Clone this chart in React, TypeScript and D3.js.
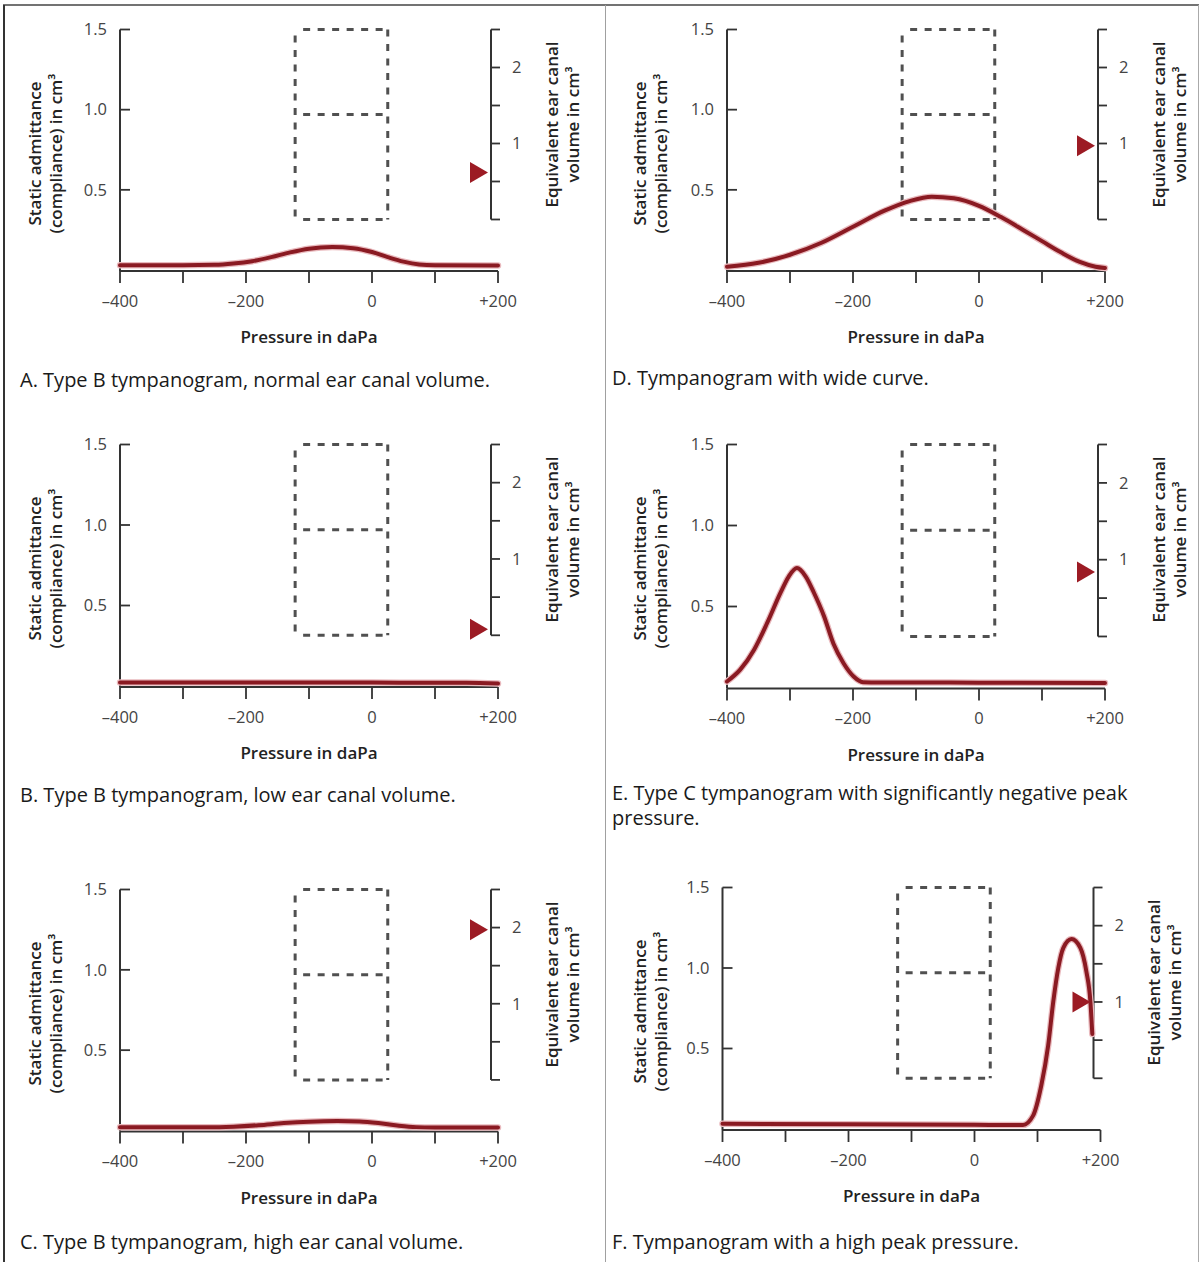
import React from 'react';
import * as d3 from 'd3';

// ---------- data ----------
const pressureTicks = [-400, -300, -200, -100, 0, 100, 200];
const pressureLabelValues = [-400, -200, 0, 200];
const pressureLabelText = ['\u2013400', '\u2013200', '0', '+200'];
const complianceTicks = [0.5, 1.0, 1.5];
const complianceLabels = ['0.5', '1.0', '1.5'];
const volumeTicks = [0, 0.5, 1, 1.5, 2, 2.5];
const volumeLabelValues = [1, 2];

const normalBoxPressure = [-122, 25];
const normalBoxCompliance = [0.315, 0.97, 1.5];

const curveA: [number, number][] = [
  [-400, 0.03], [-300, 0.03], [-250, 0.032], [-220, 0.04], [-190, 0.055], [-160, 0.08],
  [-130, 0.11], [-100, 0.133], [-63, 0.143], [-30, 0.136], [0, 0.112], [25, 0.08],
  [50, 0.052], [75, 0.035], [100, 0.03], [200, 0.028],
];
const curveB: [number, number][] = [
  [-400, 0.022], [-200, 0.022], [0, 0.021], [150, 0.02], [200, 0.015],
];
const curveC: [number, number][] = [
  [-400, 0.02], [-260, 0.02], [-220, 0.024], [-180, 0.033], [-140, 0.046], [-100, 0.055],
  [-55, 0.059], [-20, 0.056], [10, 0.046], [40, 0.031], [70, 0.021], [100, 0.019], [200, 0.018],
];
const curveD: [number, number][] = [
  [-400, 0.02], [-350, 0.045], [-300, 0.095], [-250, 0.17], [-200, 0.27], [-150, 0.37],
  [-110, 0.43], [-75, 0.457], [-40, 0.447], [0, 0.40], [35, 0.33], [70, 0.25], [100, 0.18],
  [130, 0.11], [160, 0.05], [185, 0.02], [200, 0.012],
];
const curveE: [number, number][] = [
  [-400, 0.037], [-379, 0.11], [-357, 0.233], [-336, 0.40], [-315, 0.585], [-302, 0.685],
  [-289, 0.737], [-275, 0.685], [-262, 0.585], [-246, 0.44], [-231, 0.27], [-215, 0.15],
  [-199, 0.068], [-184, 0.033], [-157, 0.031], [0, 0.03], [200, 0.028],
];
const curveF: [number, number][] = [
  [-400, 0.032], [-200, 0.03], [0, 0.026], [77, 0.025], [93, 0.083], [106, 0.27], [117, 0.52],
  [125, 0.79], [133, 1.0], [141, 1.125], [154, 1.18], [168, 1.125], [177.5, 0.98],
  [184, 0.79], [187, 0.59],
];

const markerVolumes = [0.62, 0.08, 1.97, 0.97, 0.84, 1.0];

const captionA = ['A. Type B tympanogram, normal ear canal volume.'];
const captionB = ['B. Type B tympanogram, low ear canal volume.'];
const captionC = ['C. Type B tympanogram, high ear canal volume.'];
const captionD = ['D. Tympanogram with wide curve.'];
const captionE = ['E. Type C tympanogram with significantly negative peak', 'pressure.'];
const captionF = ['F. Tympanogram with a high peak pressure.'];

const yTitle = ['Static admittance', '(compliance) in cm\u00B3'];
const vTitle = ['Equivalent ear canal', 'volume in cm\u00B3'];
const xTitle = 'Pressure in daPa';

// ---------- layout ----------
const panels = [
  { x0: 120, top: 29.5, zero: 270, curve: curveA, marker: markerVolumes[0], caption: captionA, capX: 20, capY: 387, titleX: 35 },
  { x0: 120, top: 444.5, zero: 686, curve: curveB, marker: markerVolumes[1], caption: captionB, capX: 20, capY: 802, titleX: 35 },
  { x0: 120, top: 889.5, zero: 1130.5, curve: curveC, marker: markerVolumes[2], caption: captionC, capX: 20, capY: 1249, titleX: 35 },
  { x0: 727, top: 29.5, zero: 270, curve: curveD, marker: markerVolumes[3], caption: captionD, capX: 612, capY: 385, titleX: 640 },
  { x0: 727, top: 444.5, zero: 687.5, curve: curveE, marker: markerVolumes[4], caption: captionE, capX: 612, capY: 800, titleX: 640 },
  { x0: 722.5, top: 887.5, zero: 1129, curve: curveF, marker: markerVolumes[5], caption: captionF, capX: 612, capY: 1249, titleX: 640 },
];

const FONT = "'Open Sans', 'Noto Sans', sans-serif";
const AXIS = '#333';
const LABEL = '#444';
const RED = '#8a1a22';

function Panel(p: any) {
  const W = 378;
  const x = d3.scaleLinear().domain([-400, 200]).range([p.x0, p.x0 + W]);
  const y = d3.scaleLinear().domain([0, 1.5]).range([p.zero, p.top]);
  const ax = p.x0 + 371;
  const v = d3.scaleLinear().domain([0, 2.5]).range([y(normalBoxCompliance[0]), y(1.5)]);
  const line = d3.line<[number, number]>().x(d => x(d[0])).y(d => y(d[1])).curve(d3.curveMonotoneX);
  const path = line(p.curve) || '';
  const bx0 = x(normalBoxPressure[0]);
  const bx1 = x(normalBoxPressure[1]);
  const by0 = y(normalBoxCompliance[0]);
  const byM = y(normalBoxCompliance[1]);
  const by1 = y(normalBoxCompliance[2]);
  const my = v(p.marker);
  const tipX = ax - 3;
  const dash = { stroke: '#505050', strokeWidth: 3, strokeDasharray: '7 7.5', fill: 'none' };
  const midY = p.top + 124;
  const vMid = p.top + 95;
  return (
    <g>
      {/* normal region box */}
      <line x1={bx0 + 8} x2={bx1} y1={by1} y2={by1} style={dash} />
      <line x1={bx0 + 8} x2={bx1} y1={by0} y2={by0} style={dash} />
      <line x1={bx0 + 8} x2={bx1} y1={byM} y2={byM} style={dash} />
      <line x1={bx0} x2={bx0} y1={by1 + 6} y2={by0} style={dash} />
      <line x1={bx1} x2={bx1} y1={by1} y2={by0} style={dash} />

      {/* left axis */}
      <line x1={p.x0} x2={p.x0} y1={p.top} y2={p.zero + 1} stroke={AXIS} strokeWidth={2} />
      {complianceTicks.map((t, i) => (
        <g key={'c' + i}>
          <line x1={p.x0} x2={p.x0 + 10} y1={y(t)} y2={y(t)} stroke={AXIS} strokeWidth={1.8} />
          <text x={p.x0 - 13} y={y(t)} dy="0.35em" textAnchor="end" fontSize={16.5} fill={LABEL} fontFamily={FONT}>
            {complianceLabels[i]}
          </text>
        </g>
      ))}

      {/* bottom axis */}
      <line x1={p.x0} x2={p.x0 + W} y1={p.zero + 1} y2={p.zero + 1} stroke={AXIS} strokeWidth={2} />
      {pressureTicks.map((t, i) => (
        <line key={'p' + i} x1={x(t)} x2={x(t)} y1={p.zero + 1} y2={p.zero + 13} stroke={AXIS} strokeWidth={1.8} />
      ))}
      {pressureLabelValues.map((t, i) => (
        <text key={'pl' + i} x={x(t)} y={p.zero + 31} dy="0.35em" textAnchor="middle" fontSize={16.5} fill={LABEL} fontFamily={FONT}>
          {pressureLabelText[i]}
        </text>
      ))}
      <text x={p.x0 + W / 2} y={p.zero + 73} textAnchor="middle" fontSize={17} fontWeight={600} fill="#222" fontFamily={FONT}>
        {xTitle}
      </text>

      {/* right axis */}
      <line x1={ax} x2={ax} y1={v(2.5)} y2={v(0)} stroke={AXIS} strokeWidth={2} />
      {volumeTicks.map((t, i) => (
        <line key={'v' + i} x1={ax} x2={ax + 9} y1={v(t)} y2={v(t)} stroke={AXIS} strokeWidth={1.8} />
      ))}
      {volumeLabelValues.map((t, i) => (
        <text key={'vl' + i} x={ax + 21} y={v(t)} dy="0.35em" fontSize={16.5} fill={LABEL} fontFamily={FONT}>
          {t}
        </text>
      ))}

      {/* titles */}
      {yTitle.map((s, i) => (
        <text key={'yt' + i} transform={`translate(${p.titleX + i * 21},${midY}) rotate(-90)`} dy="0.35em" textAnchor="middle"
          fontSize={17} fontWeight={600} fill="#222" fontFamily={FONT}>{s}</text>
      ))}
      {vTitle.map((s, i) => (
        <text key={'vt' + i} transform={`translate(${ax + 61 + i * 21},${vMid}) rotate(-90)`} dy="0.35em" textAnchor="middle"
          fontSize={17} fontWeight={600} fill="#222" fontFamily={FONT}>{s}</text>
      ))}

      {/* curve */}
      <path d={path} fill="none" stroke="#e9b9bd" strokeWidth={6.5} strokeLinejoin="round" strokeLinecap="round" />
      <path d={path} fill="none" stroke={RED} strokeWidth={4} strokeLinejoin="round" strokeLinecap="round" />

      {/* marker */}
      <path d={`M${tipX},${my} L${tipX - 18},${my - 10.5} L${tipX - 18},${my + 10.5} Z`} fill="#9c1b24" />

      {/* caption */}
      {p.caption.map((s: string, i: number) => (
        <text key={'cap' + i} x={p.capX} y={p.capY + i * 25} fontSize={20} fill="#1a1a1a" fontFamily={FONT}>{s}</text>
      ))}
    </g>
  );
}

export default function App() {
  return (
    <svg width={1202} height={1262} style={{ position: 'absolute', left: 0, top: 0, background: '#fff' }}>
      <rect x={0} y={0} width={1202} height={1262} fill="#fff" />
      <line x1={3} x2={1199} y1={5} y2={5} stroke="#444" strokeWidth={1.5} />
      <line x1={4} x2={4} y1={5} y2={1262} stroke="#333" strokeWidth={2} />
      <line x1={1198.5} x2={1198.5} y1={5} y2={1262} stroke="#aaa" strokeWidth={1} />
      <line x1={605.5} x2={605.5} y1={5} y2={1262} stroke="#a0a0a0" strokeWidth={1} />
      {panels.map((p, i) => <Panel key={i} {...p} />)}
    </svg>
  );
}
